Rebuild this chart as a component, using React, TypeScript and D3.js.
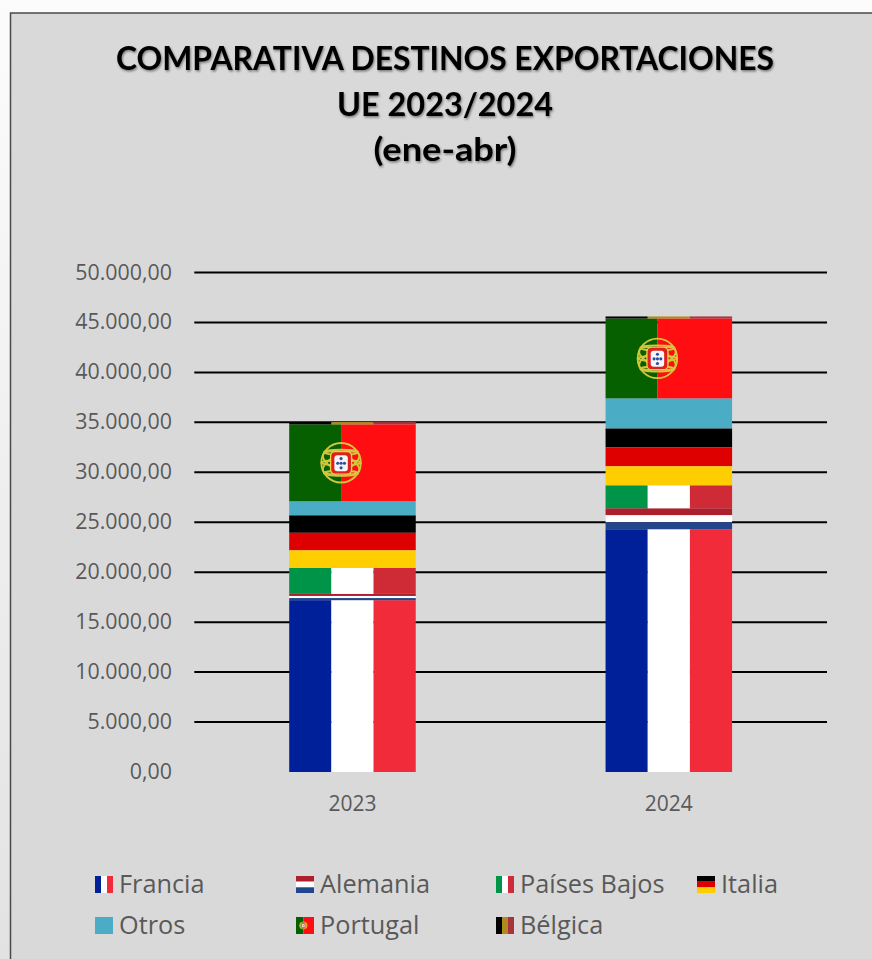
import React from "react";
import * as d3 from "d3";

const years = ["2023", "2024"];
const seriesNames = ["Francia", "Alemania", "Países Bajos", "Italia", "Otros", "Portugal", "Bélgica"];
const francia = [17200, 24300];
const alemania = [630, 2100];
const paisesBajos = [2600, 2300];
const italia = [5270, 5700];
const otros = [1400, 3000];
const portugal = [7700, 8000];
const belgica = [230, 200];
const yTicks = [0, 5000, 10000, 15000, 20000, 25000, 30000, 35000, 40000, 45000, 50000];
const titleLines = ["COMPARATIVA DESTINOS EXPORTACIONES", "UE 2023/2024", "(ene-abr)"];
const titleWidths = [658, 216, 143];

const seriesValues = [francia, alemania, paisesBajos, italia, otros, portugal, belgica];

// each legend entry is filled with a flag: [stripes, direction]
const flags: { stripes: string[]; dir: "v" | "h" | "pt" }[] = [
  { stripes: ["#00209a", "#ffffff", "#f12b3a"], dir: "v" },
  { stripes: ["#ad1f2d", "#ffffff", "#21468b"], dir: "h" },
  { stripes: ["#009449", "#ffffff", "#ce2b37"], dir: "v" },
  { stripes: ["#000000", "#de0000", "#ffce00"], dir: "h" },
  { stripes: ["#4bacc6"], dir: "h" },
  { stripes: ["#066000", "#ff0d10"], dir: "pt" },
  { stripes: ["#000000", "#b08a1e", "#a8333c"], dir: "v" },
];

const fmt = (v: number) =>
  d3.format(",.2f")(v).replace(/,/g, "#").replace(".", ",").replace(/#/g, ".");

const width = 872;
const height = 959;
const plot = { left: 194.3, right: 827, top: 272.5, bottom: 772 };
const titleFont = "Lato, sans-serif";
const labelFont = "'Open Sans', sans-serif";

// armillary sphere with the shield on top, drawn over the flag colours
function Emblem({ cx, cy, r }: { cx: number; cy: number; r: number }) {
  const ring = "#d3c63c";
  const sw = Math.max(r * 0.09, 0.6);
  const bands = [-0.5, 0, 0.5];
  return (
    <g fill="none" stroke={ring} strokeWidth={sw}>
      <circle cx={cx} cy={cy} r={r * 0.94} />
      <ellipse cx={cx} cy={cy} rx={r * 0.94} ry={r * 0.4} transform={`rotate(25 ${cx} ${cy})`} />
      <ellipse cx={cx} cy={cy} rx={r * 0.94} ry={r * 0.4} transform={`rotate(-25 ${cx} ${cy})`} />
      {bands.map((b) => (
        <ellipse key={b} cx={cx} cy={cy + b * r} rx={r * Math.sqrt(1 - b * b) * 0.94} ry={r * 0.12} />
      ))}
      <rect x={cx - r * 0.5} y={cy - r * 0.54} width={r} height={r * 1.08} rx={r * 0.22} fill="#e0201b" stroke="none" />
      <rect x={cx - r * 0.5} y={cy - r * 0.54} width={r} height={r * 1.08} rx={r * 0.22} stroke="#e9d24a" strokeWidth={sw * 0.7} />
      <rect x={cx - r * 0.32} y={cy - r * 0.36} width={r * 0.64} height={r * 0.76} rx={r * 0.14} fill="#f6f6fa" stroke="none" />
      {[[0, -0.2], [-0.16, 0.02], [0, 0.02], [0.16, 0.02], [0, 0.24]].map(([dx, dy], i) => (
        <circle key={i} cx={cx + dx * r} cy={cy + dy * r} r={r * 0.075} fill="#2a4f9e" stroke="none" />
      ))}
    </g>
  );
}

function Flag({ index, x, y, w, h, emblem }: { index: number; x: number; y: number; w: number; h: number; emblem: number }) {
  const { stripes, dir } = flags[index];
  if (dir === "pt") {
    const split = w * 0.41;
    return (
      <g>
        <rect x={x} y={y} width={split} height={h} fill={stripes[0]} />
        <rect x={x + split} y={y} width={w - split} height={h} fill={stripes[1]} />
        <Emblem cx={x + split} cy={y + h / 2} r={emblem} />
      </g>
    );
  }
  const n = stripes.length;
  return (
    <g>
      {stripes.map((c, i) =>
        dir === "v" ? (
          <rect key={i} x={x + (w * i) / n} y={y} width={w / n} height={h} fill={c} />
        ) : (
          <rect key={i} x={x} y={y + (h * i) / n} width={w} height={h / n} fill={c} />
        )
      )}
    </g>
  );
}

function App() {
  const x = d3.scaleBand<string>().domain(years).range([plot.left, plot.right]).paddingInner(0.6).paddingOuter(0.3);
  const y = d3.scaleLinear().domain([0, 50000]).range([plot.bottom, plot.top]);

  const table = years.map((yr, i) => {
    const row: Record<string, any> = { year: yr };
    seriesNames.forEach((s, j) => (row[s] = seriesValues[j][i]));
    return row;
  });
  const stacked = d3.stack<any>().keys(seriesNames)(table);

  const legendX = [95, 296, 496, 697];
  const legendY = [884.5, 925.5];

  return (
    <svg
      width={width}
      height={height}
      viewBox={`0 0 ${width} ${height}`}
      style={{ position: "absolute", left: 0, top: 0 }}
      fontFamily={labelFont}
    >
      <defs>
        <filter id="titleShadow" x="-5%" y="-20%" width="110%" height="150%">
          <feDropShadow dx="1" dy="1.5" stdDeviation="1.3" floodColor="#000" floodOpacity="0.45" />
        </filter>
        <linearGradient id="pageFade" x1="0" y1="0" x2="0" y2="1">
          <stop offset="0" stopColor="#fcfcfc" />
          <stop offset="1" stopColor="#e2e2e2" />
        </linearGradient>
      </defs>
      <rect width={width} height={height} fill="url(#pageFade)" />
      <rect x={10.5} y={13} width={870} height={960} fill="#d9d9d9" stroke="#4a4a4a" strokeWidth={1.5} />

      <g filter="url(#titleShadow)" fontFamily={titleFont}>
        {titleLines.map((t, i) => (
          <text
            key={t}
            x={445}
            y={70 + i * 45.5}
            textAnchor="middle"
            fontSize={32}
            fontWeight={700}
            fill="#000"
            textLength={titleWidths[i]}
            lengthAdjust="spacingAndGlyphs"
          >
            {t}
          </text>
        ))}
      </g>

      {yTicks.map((t) => (
        <g key={t}>
          {t > 0 && <line x1={plot.left} x2={plot.right} y1={y(t)} y2={y(t)} stroke="#000" strokeWidth={2} />}
          <text x={172} y={y(t) + 7} textAnchor="end" fontSize={21.4} fill="#595959">
            {fmt(t)}
          </text>
        </g>
      ))}

      {stacked.map((layer, si) =>
        layer.map((d, i) => {
          const bx = x(years[i])!;
          const top = y(d[1]);
          return (
            <Flag key={`${si}-${i}`} index={si} x={bx} y={top} w={x.bandwidth()} h={y(d[0]) - top} emblem={21} />
          );
        })
      )}

      {years.map((yr) => (
        <text key={yr} x={x(yr)! + x.bandwidth() / 2} y={811} textAnchor="middle" fontSize={21} fill="#595959">
          {yr}
        </text>
      ))}

      {seriesNames.map((s, i) => {
        const col = i < 4 ? i : i - 4;
        const row = i < 4 ? 0 : 1;
        const lx = legendX[col];
        const ly = legendY[row];
        return (
          <g key={s}>
            <Flag index={i} x={lx} y={ly - 8.5} w={18} h={17} emblem={4} />
            <text x={lx + 24} y={ly + 8.5} fontSize={25.3} fill="#595959">
              {s}
            </text>
          </g>
        );
      })}
    </svg>
  );
}

export default App;
